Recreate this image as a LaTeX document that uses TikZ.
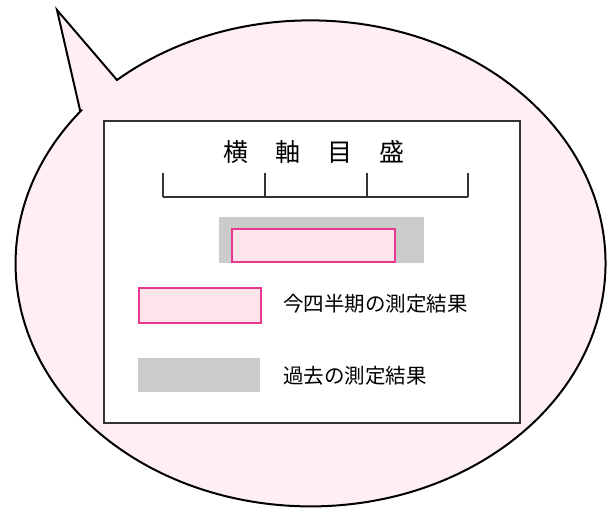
\documentclass[tikz,border=0pt]{standalone}
\usepackage{fontspec}
\newfontfamily\jpfont{Noto Sans CJK JP}
\usetikzlibrary{positioning}
\definecolor{bubblepink}{HTML}{FFEEF3}
\definecolor{nowfill}{HTML}{FCE4EA}
\definecolor{nowline}{HTML}{E8388F}
\definecolor{pastgray}{HTML}{CBCBCB}
\tikzset{ bubble/.style = { draw = black
                          , fill = bubblepink
                          , line width = 2pt
                          , line join  = miter
                          },
          panel/.style  = { rectangle
                          , draw = black!80
                          , fill = white
                          , line width = 1.6pt
                          , inner sep  = 0pt
                          , outer sep  = 0pt
                          },
          nowbox/.style = { rectangle
                          , draw = nowline
                          , fill = nowfill
                          , line width = 1.1pt
                          , inner sep  = 0pt
                          , outer sep  = 0pt
                          },
          pastbox/.style = { rectangle
                           , fill = pastgray
                           , inner sep  = 0pt
                           , outer sep  = 0pt
                           },
          axis/.style   = { draw = black!80
                          , line width = 1.5pt
                          },
          legend/.style = { font = \jpfont\fontsize{20.5pt}{22pt}\selectfont
                          , inner sep = 0pt
                          , anchor = west
                          }
        }
\begin{document}
\begin{tikzpicture}[x=1pt, y=-1pt]
    \useasboundingbox (0,0) rectangle (613,508);
    %speech bubble with its tail
    \draw[bubble] (80,110) -- (57,10) -- (117,80)
        arc[start angle=-131, end angle=219, x radius=295, y radius=243]
        -- cycle;
    \node[panel, minimum width=416pt, minimum height=302pt] (panel) at (312,272) {};
    \node[font=\jpfont\fontsize{25pt}{27pt}\selectfont, inner sep=0pt] (title) at (314,152)
        {横\hspace{27pt}軸\hspace{27pt}目\hspace{27pt}盛};
    %axis scale
    \coordinate (t0) at (163,197);
    \coordinate (t1) at (265,197);
    \coordinate (t2) at (367,197);
    \coordinate (t3) at (468,197);
    \draw[axis] (t0) -- (t3);
    \foreach \i in {0,...,3}
        \draw[axis] (t\i) -- ++(0,-24);
    %bars
    \node[pastbox, minimum width=205pt, minimum height=46pt] (pastbar) at (321.5,240) {};
    \node[nowbox, minimum width=163pt, minimum height=33pt] (nowbar) at (313.5,245.5) {};
    %legend
    \node[nowbox, minimum width=122pt, minimum height=35pt] (nowkey) at (200,305.5) {};
    \node[legend, right=22pt of nowkey, yshift=2pt] (nowtext) {今四半期の測定結果};
    \node[pastbox, minimum width=122pt, minimum height=34pt] (pastkey) at (199,375) {};
    \node[legend, right=23pt of pastkey, yshift=-1pt] (pasttext) {過去の測定結果};
\end{tikzpicture}
\end{document}
